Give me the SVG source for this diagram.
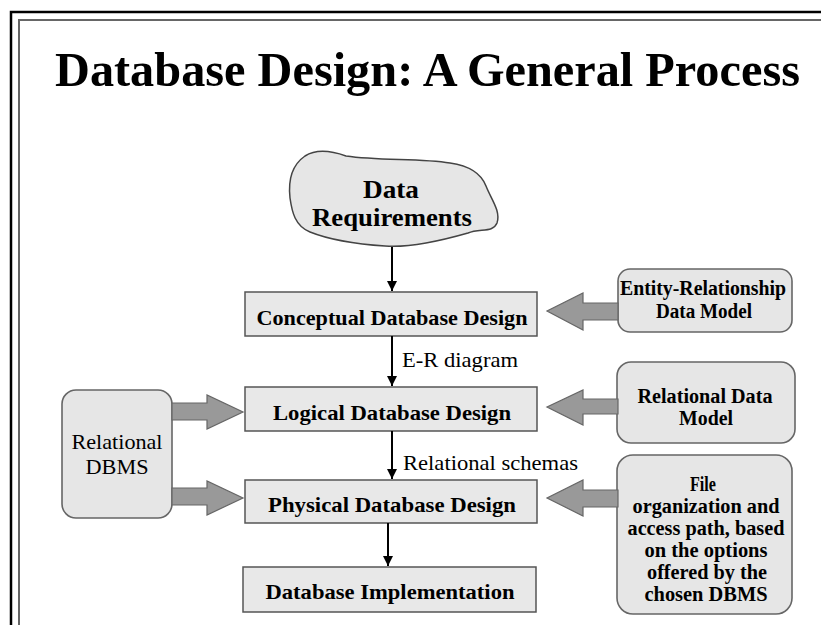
<svg xmlns="http://www.w3.org/2000/svg" width="821" height="625" viewBox="0 0 821 625">
  <style>
    text { font-family: "Liberation Serif", "DejaVu Serif", "Noto Serif", "Times New Roman", serif; fill: #000; }
    .title { font-weight: bold; font-size: 48px; }
    .step rect { fill: #e8e8e8; stroke: #555; stroke-width: 1.5; }
    .step text { font-weight: bold; font-size: 22px; text-anchor: middle; }
    .side rect { fill: #e6e6e6; stroke: #666; stroke-width: 1.6; }
    .side text { font-weight: bold; font-size: 20px; text-anchor: middle; }
    .side text.plain { font-weight: normal; font-size: 22px; }
    .cloud text { font-weight: bold; font-size: 26px; text-anchor: middle; }
    .label { font-size: 22px; }
    .flow { stroke: #000; stroke-width: 2; fill: none; }
    .block { fill: #999; stroke: #666; stroke-width: 1.2; }
  </style>
  <defs>
    <marker id="head" viewBox="0 0 10 10" refX="10" refY="5" markerWidth="5" markerHeight="7" orient="auto" markerUnits="strokeWidth">
      <path d="M0,0 L10,5 L0,10 Z" fill="#000"/>
    </marker>
  </defs>

  <!-- page frame -->
  <rect x="0" y="0" width="821" height="625" fill="#fff"/>
  <path d="M11,625 V12 H821" fill="none" stroke="#000" stroke-width="2.5"/>
  <path d="M19,625 V20 H821" fill="none" stroke="#666" stroke-width="2"/>

  <text class="title" x="55" y="86" textLength="745" lengthAdjust="spacingAndGlyphs">Database Design: A General Process</text>

  <!-- source of requirements -->
  <g id="data-requirements" class="cloud">
    <path d="M305,156 C316,149 332,151 346,156 C380,161 420,158 450,163 C470,166 481,173 486,186 C491,199 501,211 497,223 C493,233 480,228 468,233 C440,241 410,248 385,246 C355,244 330,240 310,232 C295,226 292,212 290,198 C288,180 292,165 305,156 Z" fill="#e6e6e6" stroke="#444" stroke-width="1.5"/>
    <text x="391" y="198" textLength="56" lengthAdjust="spacingAndGlyphs">Data</text>
    <text x="392" y="226" textLength="160" lengthAdjust="spacingAndGlyphs">Requirements</text>
  </g>

  <!-- main design steps -->
  <g id="conceptual" class="step">
    <rect x="245" y="292" width="292" height="44"/>
    <text x="392" y="325" textLength="271" lengthAdjust="spacingAndGlyphs">Conceptual Database Design</text>
  </g>
  <g id="logical" class="step">
    <rect x="245" y="387" width="292" height="44"/>
    <text x="392" y="420" textLength="238" lengthAdjust="spacingAndGlyphs">Logical Database Design</text>
  </g>
  <g id="physical" class="step">
    <rect x="245" y="480" width="292" height="43"/>
    <text x="392" y="512" textLength="248" lengthAdjust="spacingAndGlyphs">Physical Database Design</text>
  </g>
  <g id="implementation" class="step">
    <rect x="243" y="567" width="293" height="45"/>
    <text x="390" y="599" textLength="249" lengthAdjust="spacingAndGlyphs">Database Implementation</text>
  </g>

  <!-- models and inputs -->
  <g id="er-model" class="side">
    <rect x="618" y="269" width="174" height="63" rx="12"/>
    <text x="703" y="295" textLength="166" lengthAdjust="spacingAndGlyphs">Entity-Relationship</text>
    <text x="704" y="318" textLength="96" lengthAdjust="spacingAndGlyphs">Data Model</text>
  </g>
  <g id="relational-model" class="side">
    <rect x="617" y="362" width="178" height="81" rx="14"/>
    <text x="705" y="403" textLength="135" lengthAdjust="spacingAndGlyphs">Relational Data</text>
    <text x="706" y="425" textLength="54" lengthAdjust="spacingAndGlyphs">Model</text>
  </g>
  <g id="file-organization" class="side">
    <rect x="617" y="455" width="175" height="159" rx="16"/>
    <text x="703" y="491" textLength="26" lengthAdjust="spacingAndGlyphs">File</text>
    <text x="706" y="513" textLength="147" lengthAdjust="spacingAndGlyphs">organization and</text>
    <text x="706" y="535" textLength="157" lengthAdjust="spacingAndGlyphs">access path, based</text>
    <text x="706" y="557" textLength="123" lengthAdjust="spacingAndGlyphs">on the options</text>
    <text x="707" y="579" textLength="120" lengthAdjust="spacingAndGlyphs">offered by the</text>
    <text x="706" y="601" textLength="123" lengthAdjust="spacingAndGlyphs">chosen DBMS</text>
  </g>
  <g id="relational-dbms" class="side">
    <rect x="62" y="390" width="110" height="128" rx="14"/>
    <text class="plain" x="117" y="449" textLength="91" lengthAdjust="spacingAndGlyphs">Relational</text>
    <text class="plain" x="117" y="474" textLength="63" lengthAdjust="spacingAndGlyphs">DBMS</text>
  </g>

  <!-- connectors -->
  <g id="connectors">
    <line class="flow" x1="392" y1="247" x2="392" y2="291" marker-end="url(#head)"/>
    <line class="flow" x1="392" y1="336" x2="392" y2="386" marker-end="url(#head)"/>
    <line class="flow" x1="392" y1="431" x2="392" y2="479" marker-end="url(#head)"/>
    <line class="flow" x1="388" y1="523" x2="388" y2="566" marker-end="url(#head)" stroke-width="2.5"/>
    <text class="label" x="402" y="367" textLength="116" lengthAdjust="spacingAndGlyphs">E-R diagram</text>
    <text class="label" x="403" y="470" textLength="175" lengthAdjust="spacingAndGlyphs">Relational schemas</text>

    <!-- block arrows feeding the steps -->
    <path class="block" d="M618,303 H583 V293 L547,311 L583,330 V320 H618 Z"/>
    <path class="block" d="M618,399 H583 V390 L547,407 L583,425 V414 H618 Z"/>
    <path class="block" d="M618,490 H583 V480 L547,498 L583,516 V507 H618 Z"/>
    <path class="block" d="M172,403 H207 V395 L243,412 L207,429 V420 H172 Z"/>
    <path class="block" d="M172,488 H207 V481 L243,498 L207,515 V505 H172 Z"/>
  </g>
</svg>
